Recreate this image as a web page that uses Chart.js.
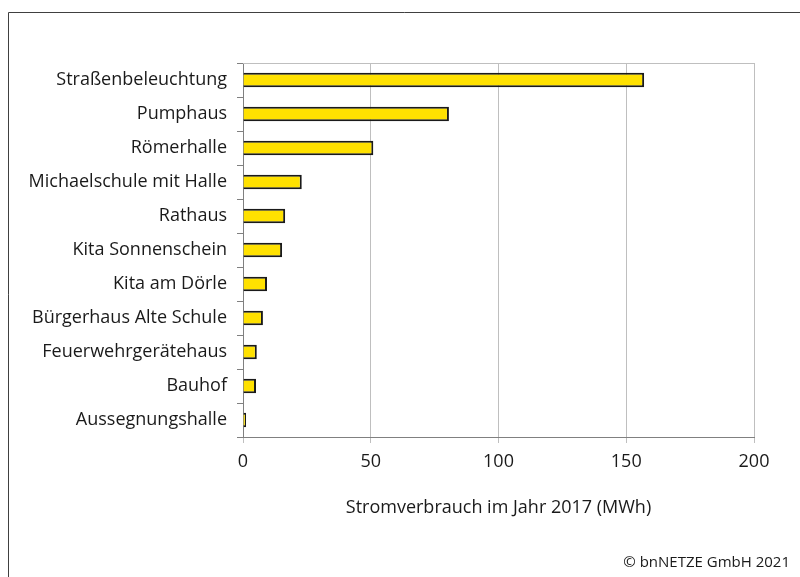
<!DOCTYPE html>
<html>
<head>
<meta charset="utf-8">
<script src="https://cdn.jsdelivr.net/npm/chart.js@4"></script>
<style>
  html, body { margin: 0; padding: 0; background: #fff; }
  #wrap { width: 800px; height: 577px; position: relative; }
</style>
</head>
<body>
<div id="wrap"><canvas id="chart" width="800" height="577"></canvas></div>
<script>
// Stromverbrauch je Liegenschaft, 2017 (MWh)
const categories = [
  'Straßenbeleuchtung',
  'Pumphaus',
  'Römerhalle',
  'Michaelschule mit Halle',
  'Rathaus',
  'Kita Sonnenschein',
  'Kita am Dörle',
  'Bürgerhaus Alte Schule',
  'Feuerwehrgerätehaus',
  'Bauhof',
  'Aussegnungshalle'
];
const consumption = [157, 80.6, 51, 23, 16.5, 15.3, 9.4, 7.8, 5.4, 5.1, 1.2];
const xTicks = [0, 50, 100, 150, 200];
const axisTitle = 'Stromverbrauch im Jahr 2017 (MWh)';
const footnote = '© bnNETZE GmbH 2021';

const FONT = '"Open Sans", sans-serif';

// frame lines, top border of the plot and copyright line
const extras = {
  id: 'extras',
  beforeDraw(chart) {
    const ctx = chart.ctx;
    ctx.save();
    ctx.strokeStyle = '#404040';
    ctx.lineWidth = 1;
    ctx.beginPath();
    ctx.moveTo(8.5, 577);
    ctx.lineTo(8.5, 12.5);
    ctx.lineTo(800, 12.5);
    ctx.stroke();
    ctx.restore();
  },
  afterDraw(chart) {
    const ctx = chart.ctx;
    const a = chart.chartArea;
    ctx.save();
    ctx.strokeStyle = '#bfbfbf';
    ctx.lineWidth = 1;
    ctx.beginPath();
    ctx.moveTo(a.left, Math.round(a.top) + 0.5);
    ctx.lineTo(a.right, Math.round(a.top) + 0.5);
    ctx.stroke();
    ctx.fillStyle = '#1a1a1a';
    ctx.font = '15px ' + FONT;
    ctx.textAlign = 'right';
    ctx.textBaseline = 'middle';
    ctx.fillText(footnote, 790, 563);
    ctx.restore();
  }
};

new Chart(document.getElementById('chart'), {
  type: 'bar',
  data: {
    labels: categories,
    datasets: [{
      data: consumption,
      backgroundColor: '#ffe100',
      borderColor: '#1a1a1a',
      borderWidth: 2,
      categoryPercentage: 1,
      barPercentage: 0.43
    }]
  },
  options: {
    indexAxis: 'y',
    responsive: false,
    animation: false,
    layout: { padding: { top: 63, right: 46, left: 0, bottom: 58 } },
    plugins: {
      legend: { display: false },
      tooltip: { enabled: false }
    },
    scales: {
      x: {
        min: 0,
        max: 200,
        afterBuildTicks(scale) {
          scale.ticks = xTicks.map(v => ({ value: v }));
        },
        afterFit(scale) { scale.height = 82; },
        grid: {
          color: '#bfbfbf',
          lineWidth: 1,
          drawTicks: true,
          tickLength: 6,
          tickColor: '#bfbfbf'
        },
        border: { color: '#808080', width: 1 },
        ticks: {
          color: '#1a1a1a',
          font: { family: FONT, size: 18 },
          padding: 8
        },
        title: {
          display: true,
          text: axisTitle,
          color: '#1a1a1a',
          font: { family: FONT, size: 18 },
          padding: { top: 0, bottom: 0 }
        }
      },
      y: {
        afterFit(scale) { scale.width = 243; },
        grid: {
          drawOnChartArea: false,
          drawTicks: true,
          tickLength: 6,
          tickColor: '#808080',
          offset: true
        },
        border: { color: '#808080', width: 1 },
        ticks: {
          color: '#1a1a1a',
          font: { family: FONT, size: 18 },
          padding: 10
        }
      }
    }
  },
  plugins: [extras]
});
</script>
</body>
</html>
